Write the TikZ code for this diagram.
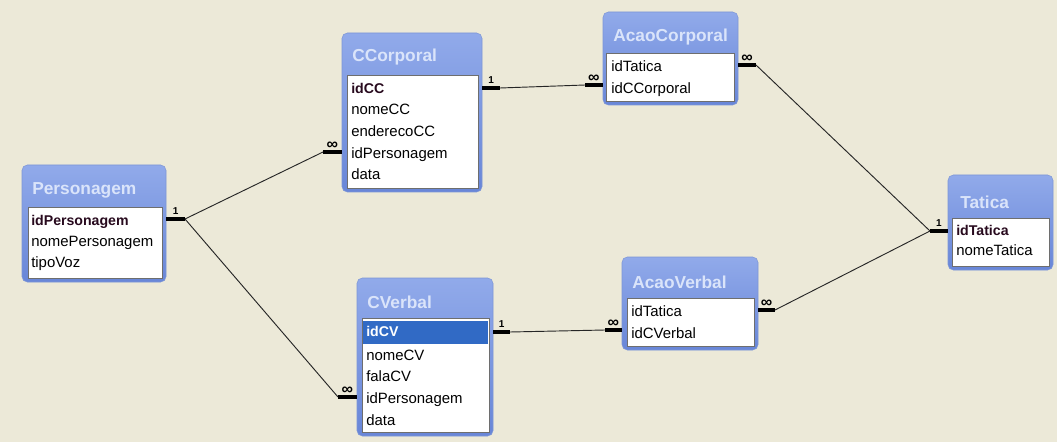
\documentclass[tikz,border=0pt]{standalone}
\usepackage{fontspec}
\setmainfont{Liberation Sans}
\usetikzlibrary{positioning,fit}

\definecolor{canvas}{RGB}{236,233,216}
\definecolor{tbltop}{RGB}{145,170,234}
\definecolor{tblbot}{RGB}{104,134,216}
\definecolor{tblline}{RGB}{125,150,214}
\definecolor{ttltext}{RGB}{218,228,250}
\definecolor{fldline}{RGB}{110,110,110}
\definecolor{pktext}{RGB}{40,10,30}
\definecolor{seltext}{RGB}{49,106,197}

\begin{document}
\begin{tikzpicture}[
    x=0.75pt, y=-0.75pt,
    tbl/.style={draw=tblline, rounded corners=4pt, top color=tbltop,
        bottom color=tblbot, inner sep=0pt},
    flds/.style={draw=fldline, fill=white, inner sep=0pt},
    sel/.style={fill=seltext, inner sep=0pt},
    ttl/.style={anchor=west, inner sep=0pt, text=ttltext,
        font=\bfseries\fontsize{13}{15}\selectfont},
    fld/.style={anchor=west, inner sep=0pt, text height=8pt, text depth=2.5pt,
        font=\fontsize{11.2}{13}\selectfont},
    pk/.style={fld, text=pktext, font=\bfseries\fontsize{10.6}{12}\selectfont},
    bar/.style={line width=2.6pt},
    card/.style={above=1.8pt, inner sep=0pt, font=\bfseries\fontsize{7.5}{8}\selectfont},
    many/.style={above=0.6pt, inner sep=0pt, font=\bfseries\fontsize{12}{12}\selectfont},
    rel/.style={line width=0.7pt, draw=black!85}
]
\fill[canvas] (0,0) rectangle (1057,442);
\useasboundingbox (0,0) rectangle (1057,442);

% Personagem
\node[tbl, fit={(22,165) (166,282)}] (pers) {};
\node[flds, fit={(28,207) (162,278)}] (pers-box) {};
\node[ttl] (pers-t) at (32,190) {Personagem};
\node[pk] (pers-id) at (31,222) {idPersonagem};
\node[fld] (pers-nome) at (31,243) {nomePersonagem};
\node[fld] (pers-tipo) at (31,264) {tipoVoz};
\coordinate (pers-1) at (185,219);

% CCorporal
\node[tbl, fit={(342,33) (482,192)}] (ccorp) {};
\node[flds, fit={(347,75) (478,188)}] (ccorp-box) {};
\node[ttl] (ccorp-t) at (352,57) {CCorporal};
\node[pk] (ccorp-id) at (351,90) {idCC};
\node[fld] (ccorp-nome) at (351,111) {nomeCC};
\node[fld] (ccorp-end) at (351,133) {enderecoCC};
\node[fld] (ccorp-pers) at (351,155) {idPersonagem};
\node[fld] (ccorp-data) at (351,176) {data};
\coordinate (ccorp-n) at (323,152);
\coordinate (ccorp-1) at (500,88);

% AcaoCorporal
\node[tbl, fit={(603,12) (738,105)}] (acorp) {};
\node[flds, fit={(606,53) (734,101)}] (acorp-box) {};
\node[ttl] (acorp-t) at (613,37) {AcaoCorporal};
\node[fld] (acorp-tat) at (611,68) {idTatica};
\node[fld] (acorp-cc) at (611,90) {idCCorporal};
\coordinate (acorp-l) at (585,85);
\coordinate (acorp-r) at (756,65);

% Tatica
\node[tbl, fit={(948,175) (1053,270)}] (tat) {};
\node[flds, fit={(952,218) (1049,266)}] (tat-box) {};
\node[ttl] (tat-t) at (960,202) {Tatica};
\node[pk] (tat-id) at (956,232) {idTatica};
\node[fld] (tat-nome) at (956,252) {nomeTatica};
\coordinate (tat-1) at (930,231);

% CVerbal
\node[tbl, fit={(357,278) (493,436)}] (cverb) {};
\node[flds, fit={(362,318) (489,432)}] (cverb-box) {};
\node[sel, fit={(363,321) (488,344)}] (cverb-sel) {};
\node[ttl] (cverb-t) at (367,302) {CVerbal};
\node[pk, text=white] (cverb-id) at (366,333) {idCV};
\node[fld] (cverb-nome) at (366,357) {nomeCV};
\node[fld] (cverb-fala) at (366,378) {falaCV};
\node[fld] (cverb-pers) at (366,400) {idPersonagem};
\node[fld] (cverb-data) at (366,422) {data};
\coordinate (cverb-n) at (338,397);
\coordinate (cverb-1) at (510,332);

% AcaoVerbal
\node[tbl, fit={(622,257) (758,350)}] (averb) {};
\node[flds, fit={(627,298) (754,346)}] (averb-box) {};
\node[ttl] (averb-t) at (632,282) {AcaoVerbal};
\node[fld] (averb-tat) at (631,313) {idTatica};
\node[fld] (averb-cv) at (631,335) {idCVerbal};
\coordinate (averb-l) at (605,330);
\coordinate (averb-r) at (775,310);

% relationships
\draw[rel] (pers-1) -- (ccorp-n);
\draw[rel] (pers-1) -- (cverb-n);
\draw[rel] (ccorp-1) -- (acorp-l);
\draw[rel] (cverb-1) -- (averb-l);
\draw[rel] (acorp-r) -- (tat-1);
\draw[rel] (averb-r) -- (tat-1);

% cardinality marks
\draw[bar] (pers.east |- pers-1) -- node[card] {1} (pers-1);
\draw[bar] (ccorp-n) -- node[many] {∞} (ccorp.west |- ccorp-n);
\draw[bar] (ccorp.east |- ccorp-1) -- node[card] {1} (ccorp-1);
\draw[bar] (acorp-l) -- node[many] {∞} (acorp.west |- acorp-l);
\draw[bar] (acorp.east |- acorp-r) -- node[many] {∞} (acorp-r);
\draw[bar] (tat-1) -- node[card] {1} (tat.west |- tat-1);
\draw[bar] (cverb-n) -- node[many] {∞} (cverb.west |- cverb-n);
\draw[bar] (cverb.east |- cverb-1) -- node[card] {1} (cverb-1);
\draw[bar] (averb-l) -- node[many] {∞} (averb.west |- averb-l);
\draw[bar] (averb.east |- averb-r) -- node[many] {∞} (averb-r);
\end{tikzpicture}
\end{document}
